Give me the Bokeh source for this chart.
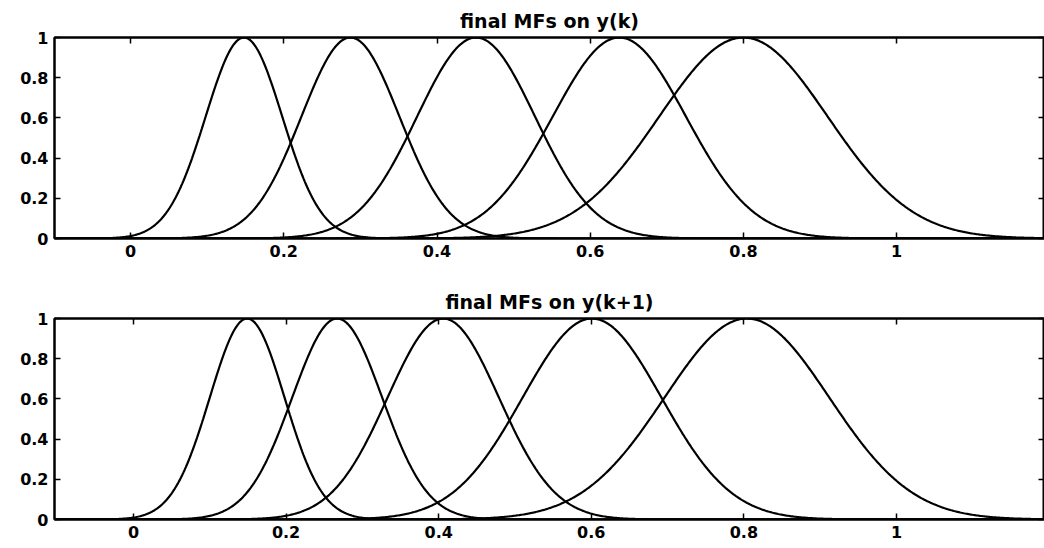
import numpy as np
from bokeh.plotting import figure
from bokeh.layouts import column
from bokeh.models import LinearAxis, FixedTicker, CustomJSTickFormatter, Range1d
from bokeh.embed import file_html
from bokeh.resources import INLINE

# Gaussian membership functions after training: centres and spreads
yk_centers = [0.148, 0.287, 0.451, 0.638, 0.800]
yk_sigmas = [0.050, 0.064, 0.077, 0.087, 0.110]

yk1_centers = [0.149, 0.267, 0.406, 0.601, 0.804]
yk1_sigmas = [0.049, 0.059, 0.073, 0.091, 0.108]

x_ticks = [0, 0.2, 0.4, 0.6, 0.8, 1]
y_ticks = [0, 0.2, 0.4, 0.6, 0.8, 1]

FONT = "DejaVu Sans"
label_fmt = CustomJSTickFormatter(code="return String(Math.round(tick*10)/10);")
blank_fmt = CustomJSTickFormatter(code="return '';")


def style_axis(ax, labelled):
    ax.ticker = FixedTicker(ticks=x_ticks if ax.dimension == 0 else y_ticks)
    ax.major_tick_in = 6
    ax.major_tick_out = 0
    ax.minor_tick_line_color = None
    ax.major_tick_line_width = 1.5
    ax.axis_line_width = 2
    ax.axis_line_color = "black"
    ax.major_tick_line_color = "black"
    if labelled:
        ax.formatter = label_fmt
        ax.major_label_text_font = FONT
        ax.major_label_text_font_style = "bold"
        ax.major_label_text_font_size = "16px"
        ax.major_label_text_color = "black"
        ax.major_label_standoff = 6
    else:
        ax.formatter = blank_fmt
        ax.major_label_standoff = 0


def mf_panel(title, centers, sigmas, height, x0, x1, top, bottom, left):
    p = figure(width=1044, height=height, output_backend="svg",
               toolbar_location=None, x_range=Range1d(x0, x1),
               y_range=Range1d(0, 1), min_border_top=top,
               min_border_bottom=bottom, min_border_left=left,
               min_border_right=0, background_fill_color="white",
               border_fill_color="white")
    p.grid.visible = False
    p.outline_line_color = "black"
    p.outline_line_width = 2
    p.title.text = title
    p.title.align = "center"
    p.title.text_font = FONT
    p.title.text_font_style = "bold"
    p.title.text_font_size = "19px"
    p.title.text_color = "black"
    p.title.standoff = 12

    style_axis(p.xaxis[0], True)
    style_axis(p.yaxis[0], True)
    top_ax = LinearAxis()
    right_ax = LinearAxis()
    p.add_layout(top_ax, "above")
    p.add_layout(right_ax, "right")
    style_axis(top_ax, False)
    style_axis(right_ax, False)

    xs = np.linspace(x0, x1, 800)
    for c, s in zip(centers, sigmas):
        p.line(xs, np.exp(-(xs - c) ** 2 / (2 * s ** 2)),
               line_color="black", line_width=2.2)
    return p


p1 = mf_panel("final MFs on y(k)", yk_centers, yk_sigmas,
              270, -0.0993, 1.193, 37, 32, 54)
p2 = mf_panel("final MFs on y(k+1)", yk1_centers, yk1_sigmas,
              278, -0.1035, 1.194, 48, 29, 54)

layout = column(p1, p2, spacing=0)
open("out.html", "w").write(file_html(layout, INLINE))
